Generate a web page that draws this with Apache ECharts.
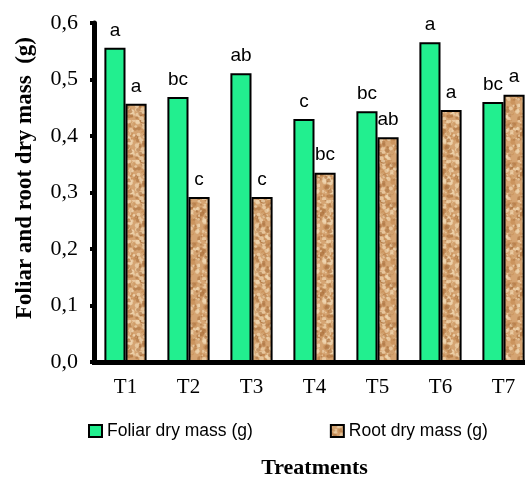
<!DOCTYPE html>
<html>
<head>
<meta charset="utf-8">
<script src="https://cdn.jsdelivr.net/npm/echarts@6/dist/echarts.min.js"></script>
<style>
html,body{margin:0;padding:0;background:#fff;}
#chart{width:525px;height:477px;}
</style>
</head>
<body>
<div id="chart"></div>
<script>
const categories = ['T1','T2','T3','T4','T5','T6','T7'];
const foliarValues = [0.556, 0.469, 0.511, 0.430, 0.444, 0.566, 0.460];
const rootValues = [0.457, 0.292, 0.292, 0.335, 0.398, 0.446, 0.473];
const foliarLetters = ['a','bc','ab','c','bc','a','bc'];
const rootLetters = ['a','c','c','bc','ab','a','a'];
const yTicks = [0, 0.1, 0.2, 0.3, 0.4, 0.5, 0.6];
const yAxisTitle = 'Foliar and root dry mass  (g)';
const xAxisTitle = 'Treatments';

// textured brown fill (deterministic speckle)
function makeTexture(){
  const c = document.createElement('canvas');
  c.width = 40; c.height = 40;
  const g = c.getContext('2d');
  g.fillStyle = '#d5a472';
  g.fillRect(0,0,40,40);
  let s = 12345;
  function rnd(){ s = (s*1103515245 + 12345) % 2147483648; return s/2147483648; }
  for(let i=0;i<220;i++){
    const x = rnd()*40, y = rnd()*40, r = 0.7 + rnd()*1.8;
    const t = rnd();
    g.fillStyle = t < 0.3 ? 'rgba(168,110,58,0.55)' : (t < 0.75 ? 'rgba(240,214,176,0.7)' : 'rgba(196,138,82,0.6)');
    g.beginPath(); g.arc(x,y,r,0,Math.PI*2); g.fill();
  }
  return c;
}
const tex = makeTexture();

const serif = 'Liberation Serif, Times New Roman, serif';
const sans = 'Liberation Sans, Arial, sans-serif';

const chart = echarts.init(document.getElementById('chart'));
chart.setOption({
  animation:false,
  backgroundColor:'#fff',
  grid:{left:94, right:-10, top:23, bottom:115, containLabel:false, outerBoundsMode:'none'},
  graphic:[{
    type:'text', left:14, top:37, rotation:Math.PI/2,
    style:{text:yAxisTitle, font:'bold 23px ' + serif, fill:'#000'}
  }],
  legend:{
    left:88, top:422, padding:0, itemWidth:13, itemHeight:12, itemGap:77,
    textStyle:{fontFamily:sans, fontSize:17.5, color:'#000'},
    data:[
      {name:'Foliar dry mass (g)', icon:'rect'},
      {name:'Root dry mass (g)', icon:'rect'}
    ]
  },
  xAxis:{
    type:'category', data:categories,
    name:xAxisTitle, nameLocation:'middle', nameGap:95,
    nameTextStyle:{fontFamily:serif, fontWeight:'bold', fontSize:22, color:'#000'},
    axisLine:{lineStyle:{color:'#000', width:5}},
    axisTick:{show:true, length:3, lineStyle:{color:'#000', width:4}},
    axisLabel:{fontFamily:serif, fontSize:21, color:'#000', margin:15}
  },
  yAxis:{
    type:'value', min:0, max:0.6, interval:0.1,
    axisLine:{show:true, lineStyle:{color:'#000', width:5}},
    axisTick:{show:true, length:4, lineStyle:{color:'#000', width:4}},
    splitLine:{show:false},
    axisLabel:{fontFamily:serif, fontSize:22, color:'#000', margin:16,
      formatter:function(v){ const t = yTicks.find(k=>Math.abs(k-v)<1e-9); return (t!==undefined?t:v).toFixed(1).replace('.',','); }}
  },
  series:[
    {
      name:'Foliar dry mass (g)', type:'bar', data:foliarValues,
      barGap:'0%', barCategoryGap:'33%',
      itemStyle:{color:'#22ef8f', borderColor:'#000', borderWidth:2},
      label:{show:true, position:'top', distance:8, fontFamily:sans, fontSize:19, color:'#000',
        formatter:function(p){ return foliarLetters[p.dataIndex]; }}
    },
    {
      name:'Root dry mass (g)', type:'bar', data:rootValues,
      itemStyle:{color:{image:tex, repeat:'repeat'}, borderColor:'#000', borderWidth:2},
      label:{show:true, position:'top', distance:8, fontFamily:sans, fontSize:19, color:'#000',
        formatter:function(p){ return rootLetters[p.dataIndex]; }}
    }
  ]
});
</script>
</body>
</html>
